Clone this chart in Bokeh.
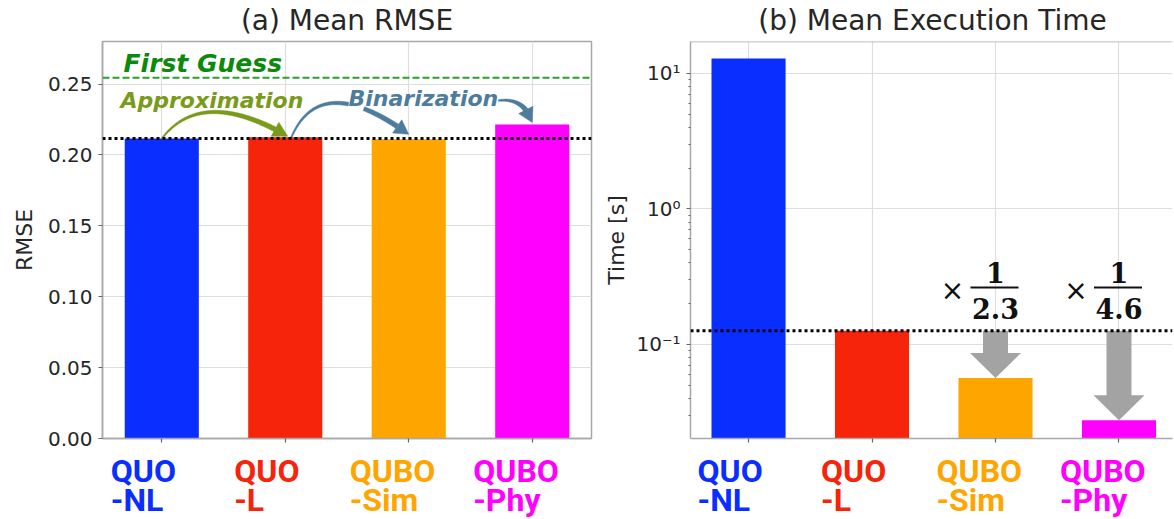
import numpy as np
from bokeh.plotting import figure
from bokeh.layouts import row, column
from bokeh.models import (Range1d, Label, Span, FixedTicker,
                          CustomJSTickFormatter, PrintfTickFormatter)
from bokeh.core.properties import value
from bokeh.embed import file_html
from bokeh.resources import INLINE

# ---------------- data ----------------
categories = ["QUO-NL", "QUO-L", "QUBO-Sim", "QUBO-Phy"]
cat_line1 = ["QUO", "QUO", "QUBO", "QUBO"]
cat_line2 = ["-NL", "-L", "-Sim", "-Phy"]
bar_colors = ["#0a2eff", "#f5240b", "#ffa500", "#ff00ff"]
rmse = [0.2115, 0.2125, 0.2110, 0.2215]
first_guess_rmse = 0.2545
exec_time = [12.9, 0.126, 0.0564, 0.0275]
speedup_text = ["2.3", "4.6"]          # for QUBO-Sim and QUBO-Phy
rmse_ticks = [0.00, 0.05, 0.10, 0.15, 0.20, 0.25]
time_ticks = [0.1, 1.0, 10.0]
titles = ["(a) Mean RMSE", "(b) Mean Execution Time"]

# ---------------- layout constants ----------------
TITLE_H = 38
CH_TOP, CH_BOT = 3, 12
FH = 397
STRIP_H = 69
L_LEFT, L_RIGHT = 102, 2
R_LEFT, R_RIGHT = 97, 2
LFW, RFW = 489, 482
L_W = L_LEFT + LFW + L_RIGHT
R_W = R_LEFT + RFW + R_RIGHT
XL0, XL1 = -0.48, 3.48
UNIT = LFW / (XL1 - XL0)
XR0 = -0.47
XR1 = XR0 + RFW / UNIT
YL0, YL1 = 0.0, 0.28
YR0, YR1 = 0.0202, 17.2
LR = np.log10(YR1) - np.log10(YR0)

GRID = "#dedede"
FRAME = "#a8a8a8"
TXT = "#262626"


def l_px(x, y):
    return ((np.asarray(x) - XL0) * UNIT, (YL1 - np.asarray(y)) / (YL1 - YL0) * FH)


def l_dat(px, py):
    return (XL0 + np.asarray(px) / UNIT, YL1 - np.asarray(py) / FH * (YL1 - YL0))


def r_px(x, y):
    return ((np.asarray(x) - XR0) * UNIT,
            (np.log10(YR1) - np.log10(np.asarray(y))) / LR * FH)


def r_dat(px, py):
    return (XR0 + np.asarray(px) / UNIT,
            10 ** (np.log10(YR1) - np.asarray(py) / FH * LR))


def base_style(p):
    p.background_fill_color = "white"
    p.border_fill_color = "white"
    p.grid.grid_line_color = GRID
    p.grid.grid_line_width = 1.2
    for ax in (p.xaxis, p.yaxis):
        ax.axis_line_color = FRAME
        ax.axis_line_width = 1.5
        ax.major_tick_line_color = "#666666"
        ax.major_tick_line_width = 1.2
        ax.major_tick_out = 4
        ax.major_tick_in = 0
        ax.minor_tick_line_color = None
        ax.major_label_text_font = "DejaVu Sans"
        ax.major_label_text_font_size = "20px"
        ax.major_label_text_color = TXT
        ax.axis_label_text_font = "DejaVu Sans"
        ax.axis_label_text_font_size = "22px"
        ax.axis_label_text_font_style = "normal"
        ax.axis_label_text_color = TXT
    p.xaxis.ticker = FixedTicker(ticks=list(range(len(categories))))
    p.xaxis.major_label_text_font_size = "1px"
    p.xaxis.major_label_text_color = None
    p.xaxis.major_label_standoff = 0
    p.yaxis.major_label_standoff = 6
    p.yaxis.axis_label_standoff = 8


def strip(x_range, left, right, height):
    s = figure(width=left + (LFW if left == L_LEFT else RFW) + right, height=height,
               x_range=x_range, y_range=Range1d(0, height),
               x_axis_type=None, y_axis_type=None,
               output_backend="svg", toolbar_location=None,
               min_border_left=left, min_border_right=right,
               min_border_top=0, min_border_bottom=0)
    s.outline_line_color = None
    s.background_fill_color = "white"
    s.border_fill_color = "white"
    s.grid.visible = False
    return s


def tapered_arrow(p, conv, p0, c, p2, color, w0=1.5, w1=5.0,
                  head_len=14.0, head_w=16.0, mask=None):
    t = np.linspace(0, 1, 240)[:, None]
    p0, c, p2 = (np.asarray(v, dtype=float) for v in (p0, c, p2))
    pts = (1 - t) ** 2 * p0 + 2 * (1 - t) * t * c + t ** 2 * p2
    d = np.hypot(pts[:, 0] - p2[0], pts[:, 1] - p2[1])
    k = int(np.where(d >= head_len)[0][-1])
    body = pts[:k + 1]
    tan = np.gradient(body, axis=0)
    tan /= np.hypot(tan[:, 0], tan[:, 1])[:, None]
    nor = np.column_stack([-tan[:, 1], tan[:, 0]])
    half = np.linspace(w0, w1, len(body))[:, None] / 2
    lft, rgt = body + nor * half, body - nor * half
    keep = np.ones(len(body), bool)
    if mask is not None:
        mx0, my0, mx1, my1 = mask
        keep = ~((body[:, 0] > mx0) & (body[:, 0] < mx1) &
                 (body[:, 1] > my0) & (body[:, 1] < my1))
    idx = np.where(keep)[0]
    runs = np.split(idx, np.where(np.diff(idx) != 1)[0] + 1)
    for r in runs:
        if len(r) < 2:
            continue
        poly = np.vstack([lft[r], rgt[r][::-1]])
        xs, ys = conv(poly[:, 0], poly[:, 1])
        p.patch([float(v) for v in xs], [float(v) for v in ys],
                fill_color=color, line_color=color, line_width=0.5)
    base = body[-1]
    dv = p2 - base
    dv /= np.hypot(*dv)
    pv = np.array([-dv[1], dv[0]])
    tri = np.array([base + pv * head_w / 2, p2, base - pv * head_w / 2])
    xs, ys = conv(tri[:, 0], tri[:, 1])
    p.patch([float(v) for v in xs], [float(v) for v in ys],
            fill_color=color, line_color=color, line_width=0.5)


def category_labels(s, height):
    # strip starts at page y = 450; line centres at y = 470 and 499
    xs, ys, txt, cols = [], [], [], []
    for i in range(len(categories)):
        off = (-51 if len(cat_line1[i]) == 3 else -59) / UNIT
        for t_, y_ in ((cat_line1[i], height - 20), (cat_line2[i], height - 49)):
            xs.append(i + off)
            ys.append(y_)
            txt.append(t_)
            cols.append(bar_colors[i])
    s.text(x=xs, y=ys, text=txt, text_color=cols,
           text_font=value("Roboto"), text_font_style="bold",
           text_font_size=value("32px"), text_align="left", text_baseline="middle")


xs_cat = list(range(len(categories)))
xr_l = Range1d(XL0, XL1)
xr_r = Range1d(XR0, XR1)

# =============== (a) Mean RMSE ===============
p1 = figure(width=L_W, height=CH_TOP + FH + CH_BOT, x_range=xr_l, y_range=Range1d(YL0, YL1),
            output_backend="svg", toolbar_location=None,
            min_border_left=L_LEFT, min_border_right=L_RIGHT,
            min_border_top=CH_TOP, min_border_bottom=CH_BOT)
base_style(p1)
p1.outline_line_color = FRAME
p1.outline_line_width = 1.5
p1.yaxis.ticker = FixedTicker(ticks=rmse_ticks)
p1.yaxis.formatter = PrintfTickFormatter(format="%.2f")
p1.yaxis.axis_label = "RMSE"

p1.vbar(x=xs_cat, top=rmse, width=0.6, fill_color=bar_colors, line_color=None)

p1.add_layout(Span(location=first_guess_rmse, dimension="width", line_color="#2ca02c",
                   line_dash="7 3", line_width=2))
p1.add_layout(Span(location=rmse[0], dimension="width", line_color="black",
                   line_dash="3 3", line_width=3))

fg_x, fg_y = l_dat(123 - 102, 63 - 41)
p1.add_layout(Label(x=float(fg_x), y=float(fg_y), text="First Guess", text_font="DejaVu Sans",
                    text_font_style="bold italic", text_font_size="25px", text_color="#0b8a0b",
                    text_align="left", text_baseline="middle"))
ap_x, ap_y = l_dat(120 - 102, 100 - 41)
APPROX = "#7a9a1a"
p1.add_layout(Label(x=float(ap_x), y=float(ap_y), text="Approximation", text_font="DejaVu Sans",
                    text_font_style="bold italic", text_font_size="22px", text_color=APPROX,
                    text_align="left", text_baseline="middle"))
bi_x, bi_y = l_dat(348 - 102, 98 - 41)
BINAR = "#4d7c9c"
p1.add_layout(Label(x=float(bi_x), y=float(bi_y), text="Binarization", text_font="DejaVu Sans",
                    text_font_style="bold italic", text_font_size="22px", text_color=BINAR,
                    text_align="left", text_baseline="middle"))

s = np.array(l_px(0, rmse[0]), dtype=float)
e = np.array(l_px(1.02, rmse[1]), dtype=float) + [0, -1]
tapered_arrow(p1, l_dat, s, s + [40, -52], e, APPROX)

s = np.array(l_px(1.05, rmse[1]), dtype=float)
e = np.array(l_px(2.0, rmse[2]), dtype=float) + [0, -5]
tapered_arrow(p1, l_dat, s, s + [29, -67], e, BINAR, mask=(246, 44, 396, 67))

s = np.array([396.0, 100 - 41])
e = np.array(l_px(3.0, rmse[3]), dtype=float) + [0, -2]
tapered_arrow(p1, l_dat, s, [e[0] - 8, s[1] - 3], e, BINAR)

t1 = strip(xr_l, L_LEFT, L_RIGHT, TITLE_H)
t1.text(x=[1.5], y=[TITLE_H - 20], text=[titles[0]], text_color=TXT,
        text_font=value("DejaVu Sans"), text_font_size=value("28px"),
        text_align="center", text_baseline="middle")
b1 = strip(xr_l, L_LEFT, L_RIGHT, STRIP_H)
category_labels(b1, STRIP_H)

# =============== (b) Mean Execution Time ===============
p2 = figure(width=R_W, height=CH_TOP + FH + CH_BOT, x_range=xr_r, y_range=Range1d(YR0, YR1),
            y_axis_type="log", output_backend="svg", toolbar_location=None,
            min_border_left=R_LEFT, min_border_right=R_RIGHT,
            min_border_top=CH_TOP, min_border_bottom=CH_BOT)
base_style(p2)
p2.outline_line_color = None
minor = [m * 10.0 ** k for k in (-2, -1, 0, 1) for m in range(2, 10)]
p2.yaxis.ticker = FixedTicker(ticks=time_ticks, minor_ticks=minor)
p2.yaxis.minor_tick_line_color = "#666666"
p2.yaxis.minor_tick_out = 2
p2.yaxis.minor_tick_in = 0
p2.yaxis.axis_label_standoff = 4
p2.yaxis.formatter = CustomJSTickFormatter(code="""
const sup = {"-": "\u207b", "0": "\u2070", "1": "\u00b9", "2": "\u00b2", "3": "\u00b3",
             "4": "\u2074", "5": "\u2075", "6": "\u2076", "7": "\u2077", "8": "\u2078", "9": "\u2079"};
const e = Math.round(Math.log10(tick));
return "10" + String(e).split("").map(c => sup[c]).join("");
""")
p2.yaxis.axis_label = "Time [s]"
p2.add_layout(Span(location=YR1, dimension="width", line_color=FRAME, line_width=1.5))

p2.vbar(x=xs_cat, top=exec_time, bottom=YR0 / 10, width=0.6, fill_color=bar_colors,
        line_color=None)

for i in (2, 3):
    cx, top_py = r_px(i, exec_time[1])
    _, tip_py = r_px(i, exec_time[i])
    base_py = tip_py - 25
    pxs = np.array([cx - 12.5, cx + 12.5, cx + 12.5, cx + 25.5, cx, cx - 25.5, cx - 12.5])
    pys = np.array([top_py, top_py, base_py, base_py, tip_py, base_py, base_py])
    ax_, ay_ = r_dat(pxs, pys)
    p2.patch([float(v) for v in ax_], [float(v) for v in ay_],
             fill_color="#a3a3a3", line_color=None)

p2.add_layout(Span(location=exec_time[1], dimension="width", line_color="black",
                   line_dash="3 3", line_width=3))

for j, i in enumerate((2, 3)):
    yy_x = float(r_dat(0, 249)[1])
    yy_n = float(r_dat(0, 231)[1])
    yy_b = float(r_dat(0, 246)[1])
    yy_d = float(r_dat(0, 267)[1])
    p2.add_layout(Label(x=i - 43 / UNIT, y=yy_x, text="\u00d7", text_font="DejaVu Sans",
                        text_font_size="28px", text_color="#111111",
                        text_align="center", text_baseline="middle"))
    p2.add_layout(Label(x=float(i), y=yy_n, text="1", text_font="DejaVu Serif",
                        text_font_style="bold", text_font_size="27px", text_color="#111111",
                        text_align="center", text_baseline="middle"))
    p2.add_layout(Label(x=float(i), y=yy_d, text=speedup_text[j], text_font="DejaVu Serif",
                        text_font_style="bold", text_font_size="27px", text_color="#111111",
                        text_align="center", text_baseline="middle"))
    p2.segment(x0=[i - 25 / UNIT], y0=[yy_b], x1=[i + 23 / UNIT], y1=[yy_b],
               line_color="#111111", line_width=2)

t2 = strip(xr_r, R_LEFT, R_RIGHT, TITLE_H)
t2.text(x=[float(XR0 + 242 / UNIT)], y=[TITLE_H - 20], text=[titles[1]], text_color=TXT,
        text_font=value("DejaVu Sans"), text_font_size=value("28px"),
        text_align="center", text_baseline="middle")
b2 = strip(xr_r, R_LEFT, R_RIGHT, STRIP_H)
category_labels(b2, STRIP_H)

layout = row(column(t1, p1, b1), column(t2, p2, b2))
open("out.html", "w").write(file_html(layout, INLINE))
